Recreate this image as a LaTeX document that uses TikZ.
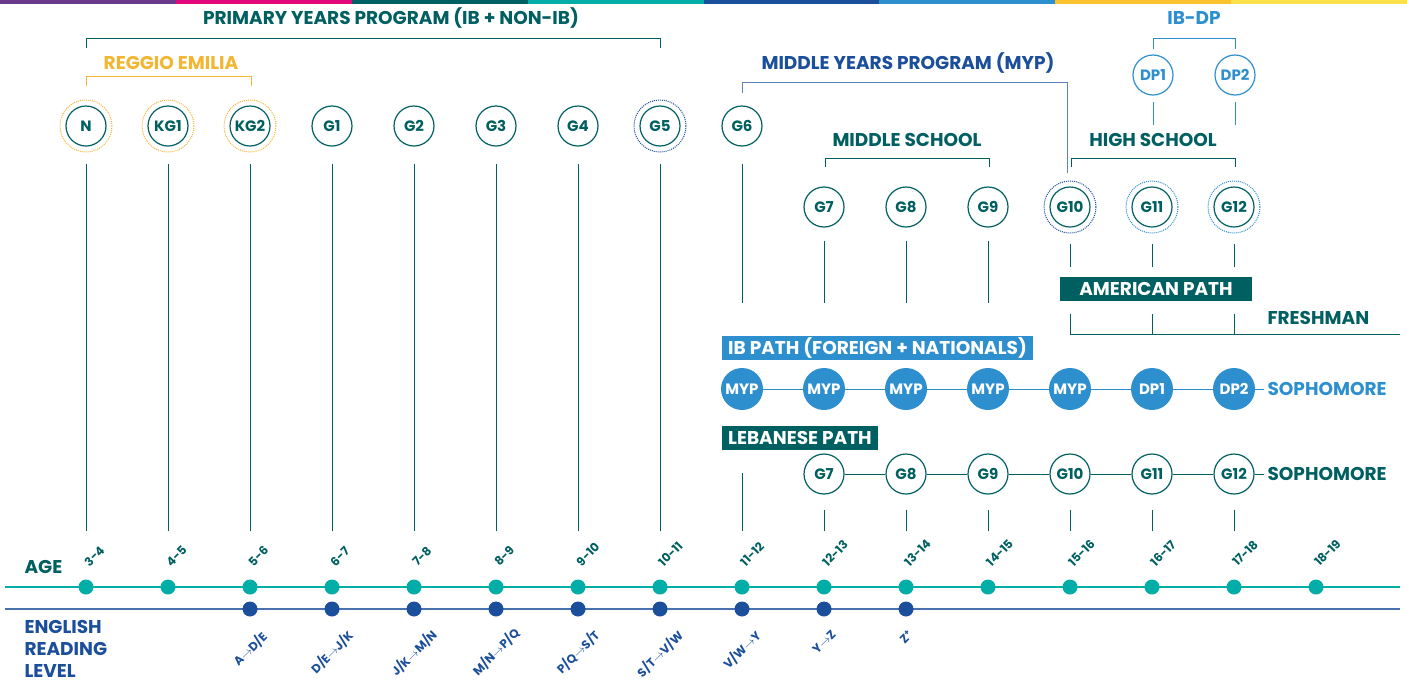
\documentclass[tikz,border=0pt]{standalone}
\usepackage{fontspec}
\setmainfont{Poppins}

\definecolor{tealdark}{HTML}{005F60}
\definecolor{turq}{HTML}{00ADA7}
\definecolor{navy}{HTML}{1B4E9B}
\definecolor{skyblue}{HTML}{2E8FCF}
\definecolor{gold}{HTML}{F2B632}
\definecolor{barpurple}{HTML}{6B3A8C}
\definecolor{barmagenta}{HTML}{E2077B}
\definecolor{baramber}{HTML}{F9C22E}
\definecolor{baryellow}{HTML}{FCE14B}

\tikzset{
  head/.style={font=\bfseries\fontsize{18.5}{18.5}\selectfont},
  grade/.style={circle, draw=tealdark, line width=1.2pt, minimum size=40pt, inner sep=0pt,
    text=tealdark, font=\bfseries\fontsize{15}{15}\selectfont},
  ibgrade/.style={circle, fill=skyblue, minimum size=42pt, inner sep=0pt,
    text=white, font=\bfseries\fontsize{15}{15}\selectfont},
  pathbox/.style={rectangle, minimum height=24pt, inner xsep=6pt, inner ysep=0pt,
    text=white, font=\bfseries\fontsize{18.5}{18.5}\selectfont},
  ring/.style={densely dotted, line width=1pt},
  bracket/.style={line width=1pt},
  stem/.style={tealdark, line width=1pt},
  agedot/.style={circle, fill=turq, minimum size=15pt, inner sep=0pt},
  engdot/.style={circle, fill=navy, minimum size=15pt, inner sep=0pt},
  agelab/.style={text=tealdark, inner sep=0pt, font=\bfseries\fontsize{12}{12}\selectfont},
  englab/.style={text=navy, inner sep=0pt, font=\bfseries\fontsize{12}{12}\selectfont}
}

\begin{document}
\begin{tikzpicture}[x=1pt, y=1pt]
  \useasboundingbox (0,0) rectangle (1407,-686);

  % Colour bar
  \foreach \c [count=\i from 0] in {barpurple,barmagenta,tealdark,turq,navy,skyblue,baramber,baryellow}
    \fill[\c] (175.875*\i,0) rectangle (175.875*\i+175.875,-3.5);

  % Primary years
  \node[head, text=tealdark] (pyp) at (391,-18) {PRIMARY YEARS PROGRAM (IB + NON-IB)};
  \draw[tealdark, bracket] (86,-48) |- (660,-38) -- (660,-48);
  \node[head, text=gold] (reggio) at (171,-63) {REGGIO EMILIA};
  \draw[gold, bracket] (86,-86) |- (251,-76) -- (251,-86);

  \foreach \lab [count=\i from 0] in {N,KG1,KG2,G1,G2,G3,G4,G5,G6}
    \node[grade] (t\i) at (86+82*\i,-126) {\lab};
  \foreach \i in {0,1,2}
    \draw[ring, gold] (t\i) circle (26pt);
  \draw[ring, navy] (t7) circle (26pt);

  % Middle years
  \node[head, text=navy] (myp) at (908,-63) {MIDDLE YEARS PROGRAM (MYP)};
  \draw[navy!70, bracket] (742,-93) |- (1067,-82) -- (1067,-173);

  % IB diploma
  \node[head, text=skyblue] (ibdp) at (1194,-18) {IB-DP};
  \draw[skyblue, bracket] (1153,-49) |- (1235,-38) -- (1235,-49);
  \node[grade, draw=skyblue, text=skyblue] (dp1) at (1153,-75) {DP1};
  \node[grade, draw=skyblue, text=skyblue] (dp2) at (1235,-75) {DP2};
  \draw[stem, skyblue] ([yshift=-6pt]dp1.south) -- ++(0,-23);
  \draw[stem, skyblue] ([yshift=-6pt]dp2.south) -- ++(0,-23);

  % Middle school and high school
  \node[head, text=tealdark] (ms) at (907,-140) {MIDDLE SCHOOL};
  \draw[tealdark, bracket] (825,-167) |- (989,-158) -- (989,-167);
  \node[head, text=tealdark] (hs) at (1153,-140) {HIGH SCHOOL};
  \draw[tealdark, bracket] (1071,-167) |- (1235,-158) -- (1235,-167);

  \foreach \lab [count=\i from 9] in {G7,G8,G9,G10,G11,G12}
    \node[grade] (m\i) at (86+82*\i,-207) {\lab};
  \draw[ring, navy] (m12) circle (26pt);
  \draw[ring, skyblue] (m13) circle (26pt);
  \draw[ring, skyblue] (m14) circle (26pt);

  % American path
  \node[pathbox, fill=tealdark, minimum width=192pt] (amer) at (1156,-289) {AMERICAN PATH};
  \draw[stem] (m12 |- 0,-314) |- (1400,-334);
  \draw[stem] (m13 |- 0,-314) -- (m13 |- 0,-334);
  \draw[stem] (m14 |- 0,-314) -- (m14 |- 0,-334);
  \node[head, text=tealdark, anchor=west] (fresh) at (1264,-318) {FRESHMAN};

  % IB path
  \node[pathbox, fill=skyblue, anchor=west] (ibpath) at (722,-348) {IB PATH (FOREIGN + NATIONALS)};
  \foreach \lab [count=\i from 8] in {MYP,MYP,MYP,MYP,MYP,DP1,DP2}
    \node[ibgrade] (ib\i) at (86+82*\i,-389) {\lab};
  \foreach \i [evaluate=\i as \j using int(\i+1)] in {8,...,13}
    \draw[stem, skyblue] (ib\i) -- (ib\j);
  \node[head, text=skyblue, anchor=west] (soph1) at (1264,-389) {SOPHOMORE};
  \draw[stem, skyblue] (ib14) -- (soph1);

  % Lebanese path
  \node[pathbox, fill=tealdark, anchor=west] (leb) at (722,-438) {LEBANESE PATH};
  \foreach \lab [count=\i from 9] in {G7,G8,G9,G10,G11,G12}
    \node[grade] (lb\i) at (86+82*\i,-474) {\lab};
  \foreach \i [evaluate=\i as \j using int(\i+1)] in {9,...,13}
    \draw[stem] (lb\i) -- (lb\j);
  \node[head, text=tealdark, anchor=west] (soph2) at (1264,-474) {SOPHOMORE};
  \draw[stem] (lb14) -- (soph2);

  % Age
  \node[head, text=tealdark, anchor=west] (age) at (21,-567) {AGE};
  \draw[turq, line width=1.2pt] (5,-587) -- (1400,-587);
  \foreach \a [count=\i from 0] in {3-4,4-5,5-6,6-7,7-8,8-9,9-10,10-11,11-12,12-13,13-14,14-15,15-16,16-17,17-18,18-19} {
    \node[agedot] (a\i) at (86+82*\i,-587) {};
    \node[agelab, anchor=south west] (al\i) at ([xshift=-3pt,yshift=12pt]a\i.north) {\rotatebox{45}{\a}};
  }

  % English reading level
  \node[head, text=navy, anchor=north west, align=left, font=\bfseries\fontsize{18.5}{22}\selectfont]
    (eng) at (21,-617) {ENGLISH\\READING\\LEVEL};
  \draw[navy!80, line width=1.4pt] (5,-609) -- (1400,-609);
  \foreach \i/\lvl/\yc in {2/{A$\to$D/E}/649, 3/{D/E$\to$J/K}/652, 4/{J/K$\to$M/N}/653,
      5/{M/N$\to$P/Q}/652, 6/{P/Q$\to$S/T}/652, 7/{S/T$\to$V/W}/654, 8/{V/W$\to$Y}/650,
      9/{Y$\to$Z}/642, 10/{Z\textsuperscript{+}}/637} {
    \node[engdot] (e\i) at (86+82*\i,-609) {};
    \node[englab, rotate=45] (el\i) at (86+82*\i,-\yc) {\lvl};
  }

  % Stems down to the age line
  \foreach \i in {0,...,7}
    \draw[stem] ([yshift=-17pt]t\i.south) -- ([yshift=48pt]a\i.north);
  \draw[stem] ([yshift=-17pt]t8.south) -- (t8 |- 0,-303);
  \draw[stem] (t8 |- 0,-473) -- ([yshift=48pt]a8.north);
  \foreach \i in {9,10,11}
    \draw[stem] ([yshift=-13pt]m\i.south) -- (m\i |- 0,-303);
  \foreach \i in {12,13,14}
    \draw[stem] ([yshift=-16pt]m\i.south) -- (m\i |- 0,-267);
  \foreach \i in {9,...,14}
    \draw[stem] ([yshift=-15pt]lb\i.south) -- ([yshift=48pt]a\i.north);
\end{tikzpicture}
\end{document}
